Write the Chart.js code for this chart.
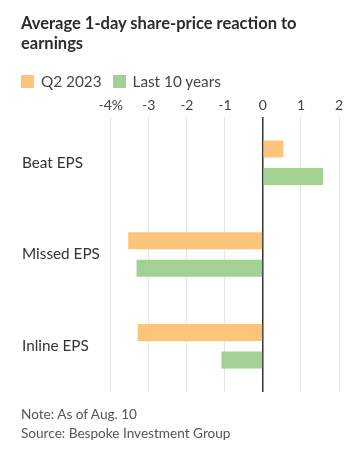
<!DOCTYPE html>
<html>
<head>
<meta charset="utf-8">
<script src="https://cdn.jsdelivr.net/npm/chart.js@4"></script>
<style>
  html, body { margin:0; padding:0; background:#fff; }
  body { width:351px; height:465px; position:relative; overflow:hidden; font-family: Lato, "Noto Sans", sans-serif; color:#333; }
  #title { position:absolute; left:21px; top:13px; width:325px; font-weight:700; font-size:16.5px; line-height:20px; color:#2b2b2b; }
  #legend { position:absolute; left:21px; top:72px; font-size:15.3px; color:#444; display:flex; align-items:center; }
  .sw { display:inline-block; width:13px; height:13px; margin-right:7px; }
  .item { display:flex; align-items:center; margin-right:11px; }
  #note { position:absolute; left:21px; top:405px; font-size:13.6px; line-height:19px; color:#555; }
  #wrap { position:absolute; left:0; top:0; width:351px; height:465px; }
</style>
</head>
<body>
<div id="wrap"><canvas id="c" width="351" height="465"></canvas></div>
<div id="title">Average 1-day share-price reaction to earnings</div>
<div id="legend">
  <span class="item"><span class="sw" style="background:#fdc47b"></span>Q2 2023</span>
  <span class="item"><span class="sw" style="background:#a3d193"></span>Last 10 years</span>
</div>
<div id="note">Note: As of Aug. 10<br>Source: Bespoke Investment Group</div>
<script>
const categories = ['Beat EPS', 'Missed EPS', 'Inline EPS'];
const seriesNames = ['Q2 2023', 'Last 10 years'];
const q2_2023 = [0.54, -3.54, -3.29];
const last10Years = [1.58, -3.32, -1.09];
const tickValues = [-4, -3, -2, -1, 0, 1, 2];
const tickLabels = ['-4%', '-3', '-2', '-1', '0', '1', '2'];

const ctx = document.getElementById('c');
new Chart(ctx, {
  type: 'bar',
  data: {
    labels: categories,
    datasets: [
      { label: seriesNames[0], data: q2_2023, backgroundColor: '#fdc47b', categoryPercentage: 0.6, barPercentage: 0.62 },
      { label: seriesNames[1], data: last10Years, backgroundColor: '#a3d193', categoryPercentage: 0.6, barPercentage: 0.62 }
    ]
  },
  options: {
    indexAxis: 'y',
    responsive: false,
    animation: false,
    devicePixelRatio: 1,
    layout: { padding: { left: 22, right: 12, top: 95, bottom: 73 } },
    plugins: { legend: { display: false }, tooltip: { enabled: false }, title: { display: false } },
    scales: {
      x: {
        position: 'top',
        min: -4, max: 2,
        afterBuildTicks: (s) => { s.ticks = tickValues.map(v => ({ value: v })); },
        afterFit: (s) => { s.height = 22; },
        ticks: {
          padding: 3,
          color: '#444',
          font: { family: 'Lato', size: 14 },
          callback: (v) => { const i = tickValues.indexOf(v); return i >= 0 ? tickLabels[i] : ''; },
          maxRotation: 0
        },
        grid: {
          drawTicks: false,
          color: (c) => c.tick && c.tick.value === 0 ? '#333' : '#e6e6e6',
          lineWidth: (c) => c.tick && c.tick.value === 0 ? 1.5 : 1
        },
        border: { display: false }
      },
      y: {
        afterFit: (s) => { s.width = 88.7; },
        ticks: {
          crossAlign: 'far',
          color: '#333',
          font: { family: 'Lato', size: 15.3 },
          padding: 0
        },
        grid: { display: false, drawTicks: false },
        border: { display: false }
      }
    }
  }
});
</script>
</body>
</html>
